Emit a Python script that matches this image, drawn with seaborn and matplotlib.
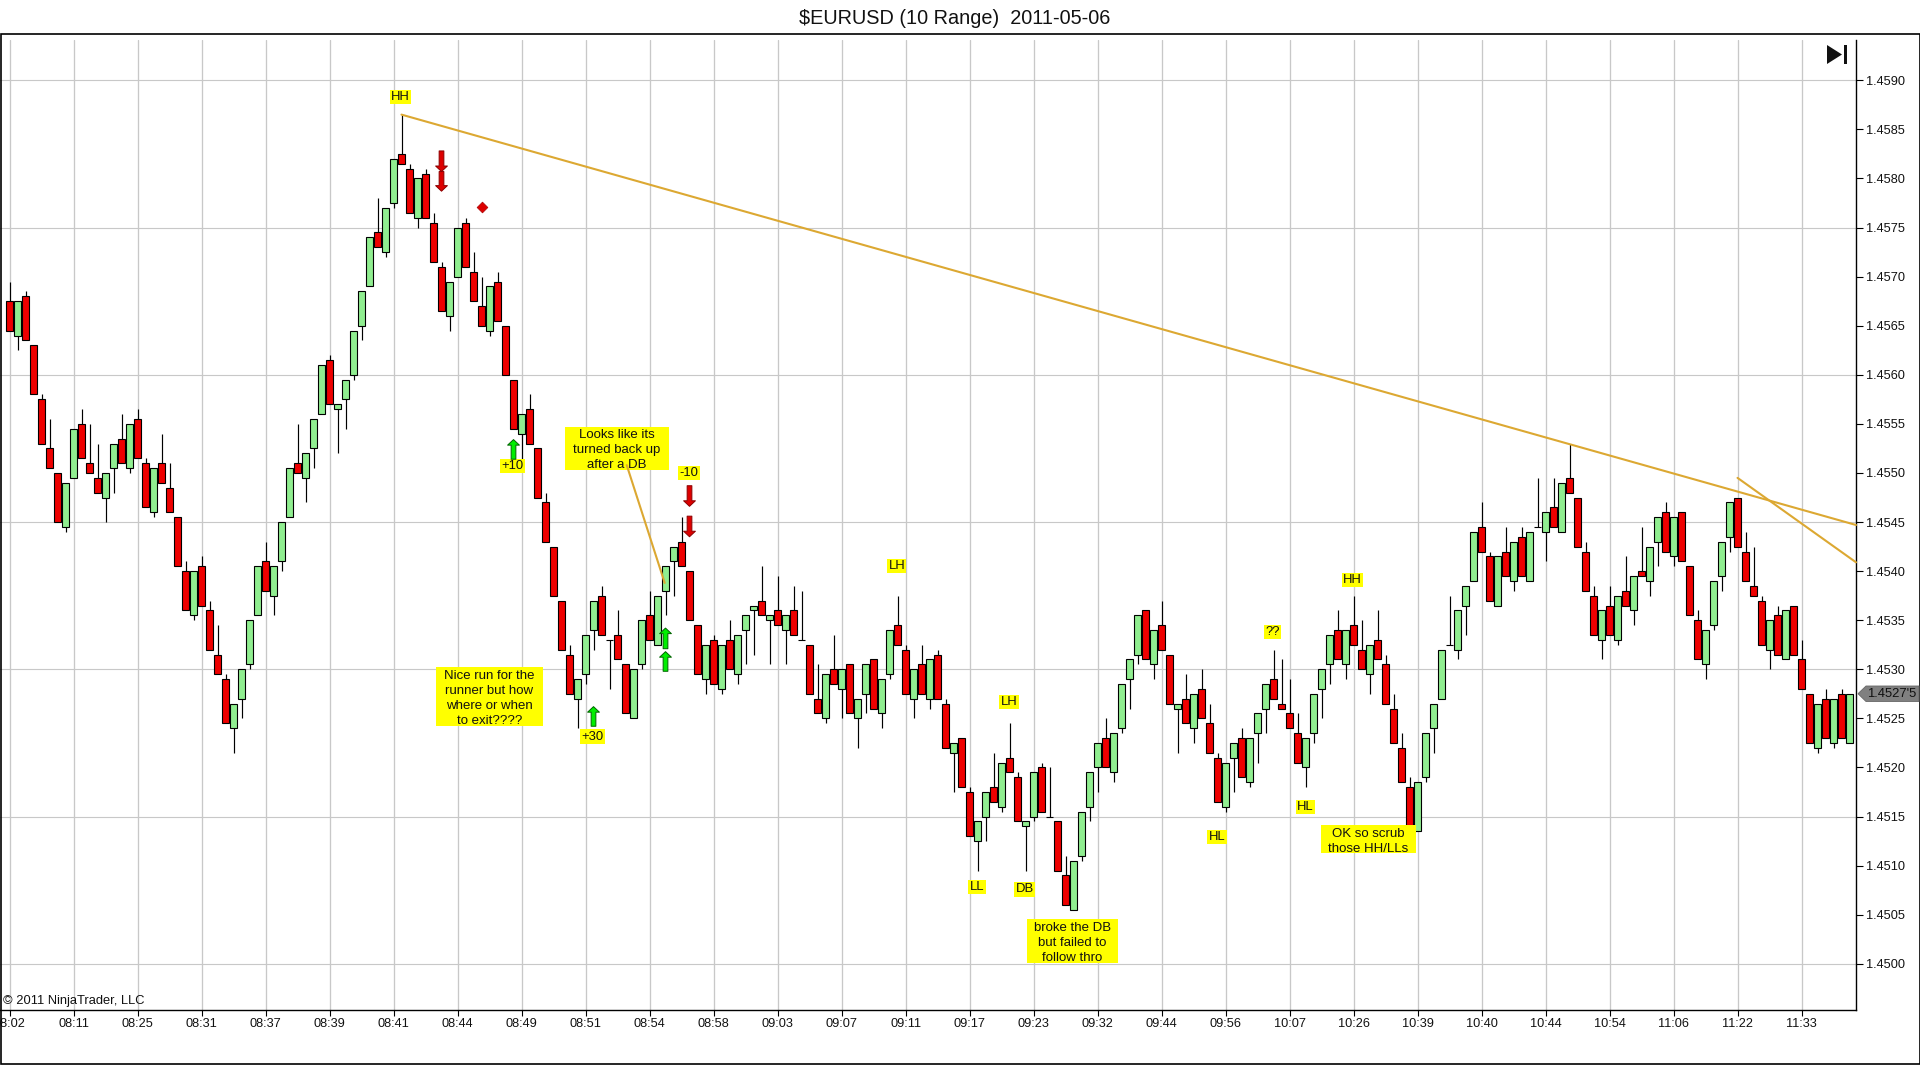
import pandas as pd
import numpy as np
import matplotlib
matplotlib.use("Agg")
import matplotlib.pyplot as plt
import seaborn as sns
from matplotlib.patches import Polygon, Rectangle

W, H = 1920, 1065

# ohlc of the 231 range bars
opens = [
    1.45675, 1.45640, 1.45680, 1.45630, 1.45575, 1.45525, 1.45500, 1.45445, 1.45495, 1.45550,
    1.45510, 1.45495, 1.45475, 1.45505, 1.45535, 1.45505, 1.45555, 1.45510, 1.45460, 1.45510,
    1.45485, 1.45455, 1.45400, 1.45355, 1.45405, 1.45360, 1.45315, 1.45290, 1.45240, 1.45270,
    1.45305, 1.45355, 1.45410, 1.45375, 1.45410, 1.45455, 1.45510, 1.45495, 1.45525, 1.45560,
    1.45615, 1.45565, 1.45575, 1.45600, 1.45650, 1.45690, 1.45745, 1.45725, 1.45775, 1.45825,
    1.45810, 1.45760, 1.45805, 1.45755, 1.45710, 1.45660, 1.45700, 1.45755, 1.45705, 1.45670,
    1.45645, 1.45695, 1.45650, 1.45595, 1.45540, 1.45565, 1.45525, 1.45470, 1.45425, 1.45370,
    1.45315, 1.45270, 1.45295, 1.45340, 1.45375, 1.45330, 1.45335, 1.45305, 1.45250, 1.45305,
    1.45355, 1.45325, 1.45380, 1.45410, 1.45430, 1.45400, 1.45345, 1.45290, 1.45330, 1.45280,
    1.45330, 1.45295, 1.45340, 1.45360, 1.45370, 1.45350, 1.45360, 1.45340, 1.45360, 1.45330,
    1.45325, 1.45270, 1.45250, 1.45300, 1.45280, 1.45305, 1.45250, 1.45275, 1.45310, 1.45255,
    1.45295, 1.45345, 1.45320, 1.45270, 1.45305, 1.45270, 1.45315, 1.45265, 1.45215, 1.45230,
    1.45175, 1.45125, 1.45150, 1.45180, 1.45160, 1.45210, 1.45190, 1.45140, 1.45150, 1.45200,
    1.45150, 1.45145, 1.45090, 1.45055, 1.45110, 1.45160, 1.45200, 1.45230, 1.45195, 1.45240,
    1.45290, 1.45315, 1.45360, 1.45305, 1.45345, 1.45315, 1.45260, 1.45270, 1.45240, 1.45280,
    1.45245, 1.45210, 1.45160, 1.45210, 1.45230, 1.45185, 1.45235, 1.45260, 1.45290, 1.45265,
    1.45255, 1.45235, 1.45200, 1.45235, 1.45280, 1.45305, 1.45340, 1.45305, 1.45345, 1.45320,
    1.45295, 1.45330, 1.45305, 1.45260, 1.45220, 1.45180, 1.45135, 1.45190, 1.45240, 1.45270,
    1.45325, 1.45320, 1.45365, 1.45390, 1.45445, 1.45415, 1.45365, 1.45420, 1.45390, 1.45435,
    1.45390, 1.45445, 1.45440, 1.45465, 1.45440, 1.45495, 1.45475, 1.45420, 1.45375, 1.45330,
    1.45365, 1.45330, 1.45380, 1.45360, 1.45400, 1.45390, 1.45430, 1.45460, 1.45415, 1.45460,
    1.45405, 1.45350, 1.45305, 1.45345, 1.45395, 1.45435, 1.45475, 1.45420, 1.45385, 1.45370,
    1.45320, 1.45355, 1.45310, 1.45365, 1.45310, 1.45275, 1.45220, 1.45270, 1.45225, 1.45275,
    1.45225,
]
closes = [
    1.45645, 1.45675, 1.45635, 1.45580, 1.45530, 1.45505, 1.45450, 1.45490, 1.45545, 1.45515,
    1.45500, 1.45480, 1.45500, 1.45530, 1.45510, 1.45550, 1.45515, 1.45465, 1.45505, 1.45490,
    1.45460, 1.45405, 1.45360, 1.45400, 1.45365, 1.45320, 1.45295, 1.45245, 1.45265, 1.45300,
    1.45350, 1.45405, 1.45380, 1.45405, 1.45450, 1.45505, 1.45500, 1.45520, 1.45555, 1.45610,
    1.45570, 1.45570, 1.45595, 1.45645, 1.45685, 1.45740, 1.45730, 1.45770, 1.45820, 1.45815,
    1.45765, 1.45800, 1.45760, 1.45715, 1.45665, 1.45695, 1.45750, 1.45710, 1.45675, 1.45650,
    1.45690, 1.45655, 1.45600, 1.45545, 1.45560, 1.45530, 1.45475, 1.45430, 1.45375, 1.45320,
    1.45275, 1.45290, 1.45335, 1.45370, 1.45335, 1.45330, 1.45310, 1.45255, 1.45300, 1.45350,
    1.45330, 1.45375, 1.45405, 1.45425, 1.45405, 1.45350, 1.45295, 1.45325, 1.45285, 1.45325,
    1.45300, 1.45335, 1.45355, 1.45365, 1.45355, 1.45355, 1.45345, 1.45355, 1.45335, 1.45330,
    1.45275, 1.45255, 1.45295, 1.45285, 1.45300, 1.45255, 1.45270, 1.45305, 1.45260, 1.45290,
    1.45340, 1.45325, 1.45275, 1.45300, 1.45275, 1.45310, 1.45270, 1.45220, 1.45225, 1.45180,
    1.45130, 1.45145, 1.45175, 1.45165, 1.45205, 1.45195, 1.45145, 1.45145, 1.45195, 1.45155,
    1.45150, 1.45095, 1.45060, 1.45105, 1.45155, 1.45195, 1.45225, 1.45200, 1.45235, 1.45285,
    1.45310, 1.45355, 1.45310, 1.45340, 1.45320, 1.45265, 1.45265, 1.45245, 1.45275, 1.45250,
    1.45215, 1.45165, 1.45205, 1.45225, 1.45190, 1.45230, 1.45255, 1.45285, 1.45270, 1.45260,
    1.45240, 1.45205, 1.45230, 1.45275, 1.45300, 1.45335, 1.45310, 1.45340, 1.45325, 1.45300,
    1.45325, 1.45310, 1.45265, 1.45225, 1.45185, 1.45140, 1.45185, 1.45235, 1.45265, 1.45320,
    1.45325, 1.45360, 1.45385, 1.45440, 1.45420, 1.45370, 1.45415, 1.45395, 1.45430, 1.45395,
    1.45440, 1.45445, 1.45460, 1.45445, 1.45490, 1.45480, 1.45425, 1.45380, 1.45335, 1.45360,
    1.45335, 1.45375, 1.45365, 1.45395, 1.45395, 1.45425, 1.45455, 1.45420, 1.45455, 1.45410,
    1.45355, 1.45310, 1.45340, 1.45390, 1.45430, 1.45470, 1.45425, 1.45390, 1.45375, 1.45325,
    1.45350, 1.45315, 1.45360, 1.45315, 1.45280, 1.45225, 1.45265, 1.45230, 1.45270, 1.45230,
    1.45275,
]
highs = [
    1.45695, 1.45675, 1.45685, 1.45630, 1.45580, 1.45555, 1.45500, 1.45490, 1.45545, 1.45565,
    1.45550, 1.45530, 1.45500, 1.45530, 1.45560, 1.45550, 1.45565, 1.45515, 1.45505, 1.45540,
    1.45510, 1.45455, 1.45410, 1.45400, 1.45415, 1.45370, 1.45345, 1.45295, 1.45265, 1.45300,
    1.45350, 1.45405, 1.45430, 1.45405, 1.45450, 1.45505, 1.45550, 1.45520, 1.45555, 1.45610,
    1.45620, 1.45570, 1.45595, 1.45645, 1.45685, 1.45740, 1.45780, 1.45770, 1.45820, 1.45865,
    1.45815, 1.45800, 1.45810, 1.45765, 1.45715, 1.45695, 1.45750, 1.45760, 1.45725, 1.45700,
    1.45690, 1.45705, 1.45650, 1.45595, 1.45560, 1.45580, 1.45525, 1.45480, 1.45425, 1.45370,
    1.45325, 1.45290, 1.45335, 1.45370, 1.45385, 1.45330, 1.45360, 1.45305, 1.45300, 1.45350,
    1.45380, 1.45375, 1.45405, 1.45425, 1.45455, 1.45400, 1.45345, 1.45325, 1.45335, 1.45325,
    1.45350, 1.45335, 1.45355, 1.45365, 1.45405, 1.45355, 1.45395, 1.45355, 1.45385, 1.45380,
    1.45325, 1.45305, 1.45295, 1.45335, 1.45300, 1.45305, 1.45270, 1.45305, 1.45310, 1.45290,
    1.45340, 1.45375, 1.45325, 1.45300, 1.45325, 1.45310, 1.45320, 1.45270, 1.45225, 1.45230,
    1.45180, 1.45145, 1.45175, 1.45215, 1.45205, 1.45245, 1.45195, 1.45145, 1.45195, 1.45205,
    1.45200, 1.45145, 1.45110, 1.45105, 1.45155, 1.45195, 1.45225, 1.45250, 1.45235, 1.45285,
    1.45310, 1.45355, 1.45360, 1.45340, 1.45370, 1.45315, 1.45265, 1.45295, 1.45275, 1.45300,
    1.45265, 1.45215, 1.45205, 1.45225, 1.45240, 1.45230, 1.45255, 1.45285, 1.45320, 1.45310,
    1.45290, 1.45255, 1.45230, 1.45275, 1.45300, 1.45335, 1.45360, 1.45340, 1.45375, 1.45350,
    1.45325, 1.45360, 1.45315, 1.45275, 1.45235, 1.45190, 1.45185, 1.45235, 1.45265, 1.45320,
    1.45375, 1.45360, 1.45385, 1.45440, 1.45470, 1.45420, 1.45415, 1.45445, 1.45430, 1.45445,
    1.45440, 1.45495, 1.45460, 1.45495, 1.45490, 1.45530, 1.45475, 1.45430, 1.45385, 1.45360,
    1.45385, 1.45375, 1.45415, 1.45395, 1.45445, 1.45425, 1.45455, 1.45470, 1.45455, 1.45460,
    1.45405, 1.45360, 1.45340, 1.45390, 1.45430, 1.45470, 1.45475, 1.45440, 1.45425, 1.45375,
    1.45350, 1.45365, 1.45360, 1.45365, 1.45330, 1.45275, 1.45265, 1.45280, 1.45270, 1.45280,
    1.45275,
]
lows = [
    1.45645, 1.45625, 1.45635, 1.45580, 1.45530, 1.45505, 1.45450, 1.45440, 1.45495, 1.45515,
    1.45500, 1.45480, 1.45450, 1.45480, 1.45510, 1.45500, 1.45515, 1.45465, 1.45455, 1.45490,
    1.45460, 1.45405, 1.45360, 1.45350, 1.45365, 1.45320, 1.45295, 1.45245, 1.45215, 1.45250,
    1.45300, 1.45355, 1.45380, 1.45355, 1.45400, 1.45455, 1.45500, 1.45470, 1.45505, 1.45560,
    1.45570, 1.45520, 1.45545, 1.45595, 1.45635, 1.45690, 1.45730, 1.45720, 1.45770, 1.45815,
    1.45765, 1.45750, 1.45760, 1.45715, 1.45665, 1.45645, 1.45700, 1.45710, 1.45675, 1.45650,
    1.45640, 1.45655, 1.45600, 1.45545, 1.45510, 1.45530, 1.45475, 1.45430, 1.45375, 1.45320,
    1.45275, 1.45240, 1.45285, 1.45320, 1.45335, 1.45280, 1.45310, 1.45255, 1.45250, 1.45300,
    1.45330, 1.45325, 1.45355, 1.45375, 1.45405, 1.45350, 1.45295, 1.45275, 1.45285, 1.45275,
    1.45300, 1.45285, 1.45305, 1.45315, 1.45355, 1.45305, 1.45345, 1.45305, 1.45335, 1.45330,
    1.45275, 1.45255, 1.45245, 1.45285, 1.45250, 1.45255, 1.45220, 1.45255, 1.45260, 1.45240,
    1.45290, 1.45325, 1.45275, 1.45250, 1.45275, 1.45260, 1.45270, 1.45220, 1.45175, 1.45180,
    1.45130, 1.45095, 1.45125, 1.45165, 1.45155, 1.45195, 1.45145, 1.45095, 1.45145, 1.45155,
    1.45150, 1.45095, 1.45060, 1.45055, 1.45105, 1.45145, 1.45175, 1.45200, 1.45185, 1.45235,
    1.45260, 1.45305, 1.45310, 1.45290, 1.45320, 1.45265, 1.45215, 1.45245, 1.45225, 1.45250,
    1.45215, 1.45165, 1.45155, 1.45175, 1.45190, 1.45180, 1.45205, 1.45235, 1.45270, 1.45260,
    1.45240, 1.45205, 1.45180, 1.45225, 1.45250, 1.45285, 1.45310, 1.45290, 1.45325, 1.45300,
    1.45275, 1.45310, 1.45265, 1.45225, 1.45185, 1.45140, 1.45135, 1.45185, 1.45215, 1.45270,
    1.45325, 1.45310, 1.45335, 1.45390, 1.45420, 1.45370, 1.45365, 1.45395, 1.45380, 1.45395,
    1.45390, 1.45445, 1.45410, 1.45445, 1.45440, 1.45480, 1.45425, 1.45380, 1.45335, 1.45310,
    1.45335, 1.45325, 1.45365, 1.45345, 1.45395, 1.45375, 1.45405, 1.45420, 1.45405, 1.45410,
    1.45355, 1.45310, 1.45290, 1.45340, 1.45380, 1.45420, 1.45425, 1.45390, 1.45375, 1.45325,
    1.45300, 1.45315, 1.45310, 1.45315, 1.45280, 1.45225, 1.45215, 1.45230, 1.45220, 1.45230,
    1.45225,
]

time_labels = ["08:02", "08:11", "08:25", "08:31", "08:37", "08:39", "08:41", "08:44", "08:49", "08:51",
               "08:54", "08:58", "09:03", "09:07", "09:11", "09:17", "09:23", "09:32", "09:44", "09:56",
               "10:07", "10:26", "10:39", "10:40", "10:44", "10:54", "11:06", "11:22", "11:33"]
price_ticks = [1.4500, 1.4505, 1.4510, 1.4515, 1.4520, 1.4525, 1.4530, 1.4535, 1.4540, 1.4545,
               1.4550, 1.4555, 1.4560, 1.4565, 1.4570, 1.4575, 1.4580, 1.4585, 1.4590]
price_grid = [1.4500, 1.4515, 1.4530, 1.4545, 1.4560, 1.4575, 1.4590]

# trend lines: (bar, price) at both ends
trend_bars = [(49, 230.81), (216, 230.81), (77.15, 81.9)]
trend_prices = [(1.45865, 1.45447), (1.45495, 1.45409), (1.45508, 1.45388)]

# entries and exits
down_bars = [54, 54, 85, 85]
down_tails = [1.45828, 1.45807, 1.45487, 1.45456]
down_tips = [1.45807, 1.45787, 1.45466, 1.45435]
up_bars = [63, 73, 82, 82]
up_tails = [1.45514, 1.45242, 1.45321, 1.45298]
up_tips = [1.45534, 1.45262, 1.45342, 1.45318]
stop_bar = [59]
stop_price = [1.45771]

# short tags, centre in pixels
tags = [
    ("HH", 400.7, 97), ("+10", 512.7, 466), ("+30", 592.7, 736.5),
    ("-10", 689, 473), ("LH", 896.7, 566), ("LH", 1009, 702),
    ("LL", 977, 887), ("DB", 1024.7, 889.3),
    ("HL", 1217, 837), ("??", 1272.7, 632), ("HL", 1305.3, 807),
    ("HH", 1352.7, 580),
]
# longer comments, box edges in pixels
comments = [
    ("Nice run for the\nrunner but how\nwhere or when\nto exit????", 436, 542.7, 666.6, 726),
    ("Looks like its\nturned back up\nafter a DB", 565, 668.7, 427, 469.7),
    ("broke the DB\nbut failed to\nfollow thro", 1027, 1118, 918.7, 962.7),
    ("OK so scrub\nthose HH/LLs", 1321, 1415.7, 825, 853.3),
]

df = pd.DataFrame({"open": opens, "high": highs, "low": lows, "close": closes})
df["bar"] = df.index
df["base"] = df[["open", "close"]].min(axis=1)
df["body"] = (df["close"] - df["open"]).abs()

sns.set_theme(style="white")
plt.rcParams["font.family"] = ["Liberation Sans", "DejaVu Sans"]


def fx(x):
    return x / W


def fy(y):
    return 1 - y / H


fig = plt.figure(figsize=(W / 100, H / 100), dpi=100, facecolor="white")
ax = fig.add_axes([0, fy(1009.5), 1856 / W, (1009.5 - 40) / H])

# bodies: two seaborn bar layers sitting on the lower edge of each candle
up = df[df["close"] >= df["open"]]
down = df[df["close"] < df["open"]]
for part, colour in [(up, "#90EE90"), (down, "#EE0000")]:
    sns.barplot(data=part, x="bar", y="body", bottom=part["base"], native_scale=True, errorbar=None,
                width=0.8, color=colour, saturation=1, edgecolor="black", linewidth=0.8,
                zorder=2, ax=ax)

ax.vlines(df["bar"], df["low"], df["high"], color="black", linewidth=0.85, zorder=1.5)

ax.set_xlim(-9.5 / 8, 230.81)
ax.set_ylim(1.449535, 1.45941)

ax.set_xticks(range(0, 8 * len(time_labels), 8))
ax.set_xticklabels(time_labels)
ax.set_yticks(price_ticks)
ax.set_yticklabels(["%.4f" % p for p in price_ticks])
ax.set_xlabel("")
ax.set_ylabel("")
ax.yaxis.tick_right()
ax.tick_params(axis="x", length=4.5, width=0.8, color="black", labelsize=9.2, labelcolor="#111111", pad=1.5, bottom=True)
ax.tick_params(axis="y", length=5, width=0.8, color="black", labelsize=9.2, labelcolor="#111111", pad=2, right=True)

ax.set_axisbelow(True)
ax.grid(axis="x", color="#c8c8c8", linewidth=0.95)
ax.grid(axis="y", visible=False)
for level in price_grid:
    ax.axhline(level, color="#c8c8c8", linewidth=0.8, zorder=0.5)

for side in ["top", "left"]:
    ax.spines[side].set_visible(False)
for side in ["right", "bottom"]:
    ax.spines[side].set_color("black")
    ax.spines[side].set_linewidth(1.0)

for text, x, y in tags:
    ax.text(fx(x), fy(y), text, transform=fig.transFigure, ha="center", va="center", fontsize=9.4,
            color="#111111", zorder=3, bbox=dict(boxstyle="square,pad=0.1", fc="#FFFF00", ec="none"))
for text, x0, x1, y0, y1 in comments:
    ax.add_patch(Rectangle((fx(x0), fy(y1)), (x1 - x0) / W, (y1 - y0) / H, transform=fig.transFigure,
                           fc="#FFFF00", ec="none", zorder=3, clip_on=False))
    ax.text(fx((x0 + x1) / 2), fy((y0 + y1) / 2 + 2), text, transform=fig.transFigure, ha="center", va="center",
            fontsize=9.5, color="#111111", linespacing=1.32, zorder=3.1)

for bars, prices in zip(trend_bars, trend_prices):
    ax.plot(bars, prices, color="#DCA832", linewidth=1.5, zorder=4, clip_on=False)

style = "simple,head_length=0.4,head_width=0.85,tail_width=0.34"
for b, tail, tip in zip(down_bars, down_tails, down_tips):
    ax.annotate("", xy=(b, tip), xytext=(b, tail), zorder=5,
                arrowprops=dict(arrowstyle=style, mutation_scale=10, shrinkA=0, shrinkB=0,
                                fc="#DD0000", ec="#8B0000", lw=0.7))
for b, tail, tip in zip(up_bars, up_tails, up_tips):
    ax.annotate("", xy=(b, tip), xytext=(b, tail), zorder=5,
                arrowprops=dict(arrowstyle=style, mutation_scale=10, shrinkA=0, shrinkB=0,
                                fc="#00EE00", ec="#006400", lw=0.7))
sns.scatterplot(x=stop_bar, y=stop_price, marker="D", s=30, color="#DD0000", edgecolor="#AA0000",
                linewidth=0.5, zorder=5, ax=ax)

# chart furniture
fig.text(fx(955), fy(18), "$EURUSD (10 Range)  2011-05-06", ha="center", va="center", fontsize=14.3,
         color="#111111", parse_math=False)
fig.text(fx(3), fy(1001), "\u00a9 2011 NinjaTrader, LLC", ha="left", va="center", fontsize=9.3, color="#111111")

fig.add_artist(Rectangle((fx(0.5), fy(1064.3)), (W - 1) / W, (1064.3 - 34) / H, transform=fig.transFigure,
                         fill=False, ec="black", lw=1.2))
fig.add_artist(Polygon([(fx(1827), fy(45)), (fx(1842), fy(54.5)), (fx(1827), fy(64))], closed=True,
                       transform=fig.transFigure, fc="#111111", ec="none"))
fig.add_artist(Rectangle((fx(1843.5), fy(64)), 3.2 / W, 19 / H, transform=fig.transFigure, fc="#111111", ec="none"))
fig.add_artist(Polygon([(fx(1858), fy(693.7)), (fx(1866), fy(686)), (fx(1919), fy(686)), (fx(1919), fy(701.5)),
                        (fx(1866), fy(701.5))], closed=True, transform=fig.transFigure, fc="#808080", ec="#666666", lw=0.6))
fig.text(fx(1867.5), fy(693.7), "1.4527'5", ha="left", va="center", fontsize=9.4, color="#111111")

fig.savefig("out.png", dpi=100, facecolor="white")
